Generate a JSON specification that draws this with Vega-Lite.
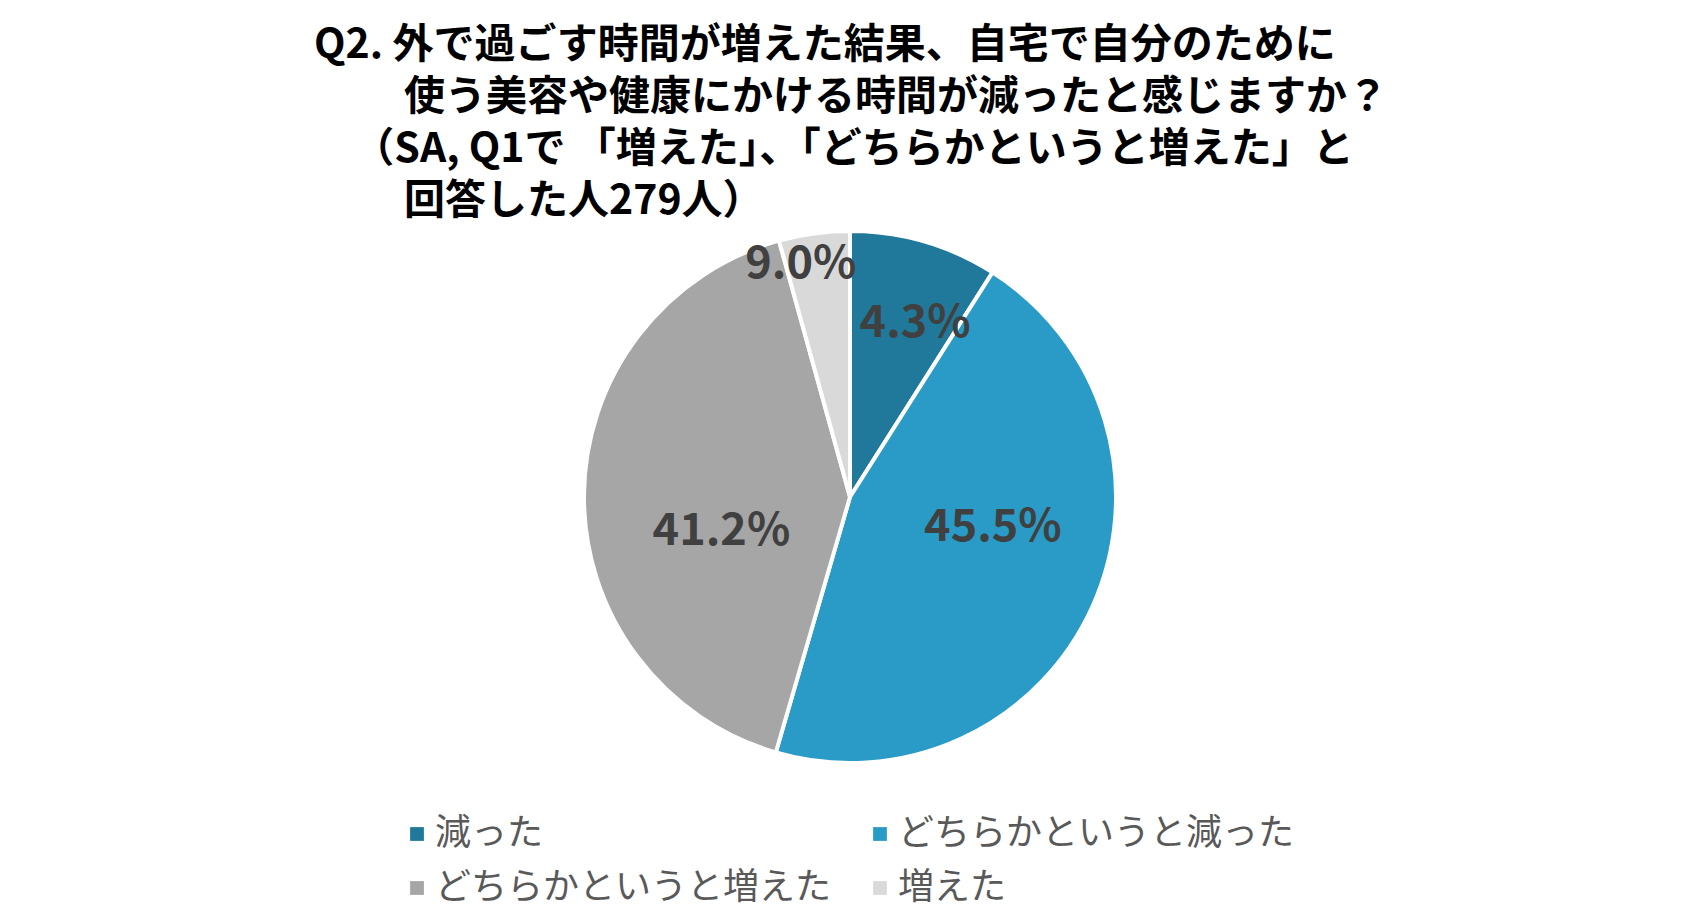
{
  "$schema": "https://vega.github.io/schema/vega-lite/v6.json",
  "width": 1700,
  "height": 532,
  "autosize": {"type": "none"},
  "padding": {"top": 231, "left": 0, "right": 0, "bottom": 158},
  "background": "white",
  "title": {
    "text": [
      "Q2. 外で過ごす時間が増えた結果、自宅で自分のために",
      "⠀⠀⠀使う美容や健康にかける時間が減ったと感じますか？",
      "⠀ （SA, Q1で 「増えた」、「どちらかというと増えた」と",
      "⠀⠀⠀回答した人279人）"
    ],
    "anchor": "start",
    "frame": "group",
    "dx": 314,
    "offset": 0,
    "font": "Noto Sans CJK JP",
    "fontSize": 41,
    "fontWeight": "bold",
    "color": "#000000",
    "lineHeight": 52
  },
  "data": {
    "values": [
      {"cat": "減った", "pct": 9.0, "label": "4.3%", "ord": 1},
      {"cat": "どちらかというと減った", "pct": 45.5, "label": "45.5%", "ord": 2},
      {"cat": "どちらかというと増えた", "pct": 41.2, "label": "41.2%", "ord": 3},
      {"cat": "増えた", "pct": 4.3, "label": "9.0%", "ord": 4}
    ]
  },
  "encoding": {
    "theta": {"field": "pct", "type": "quantitative", "stack": true},
    "order": {"field": "ord", "type": "quantitative"}
  },
  "layer": [
    {
      "mark": {"type": "arc", "outerRadius": 266, "stroke": "white", "strokeWidth": 4},
      "encoding": {
        "color": {
          "field": "cat",
          "type": "nominal",
          "scale": {
            "domain": ["減った", "どちらかというと減った", "どちらかというと増えた", "増えた"],
            "range": ["#20789a", "#2a9ac6", "#a6a6a6", "#d9d9d9"]
          },
          "legend": {
            "title": null,
            "orient": "none",
            "legendX": 399,
            "legendY": 585,
            "columns": 2,
            "direction": "horizontal",
            "symbolType": "square",
            "symbolSize": 190,
            "symbolStrokeWidth": 0,
            "labelFont": "Noto Sans CJK JP",
            "labelFontSize": 36,
            "labelColor": "#595959",
            "labelOffset": 0,
            "labelLimit": 800,
            "columnPadding": 30,
            "rowPadding": 18,
            "padding": 0
          }
        }
      }
    },
    {
      "mark": {"type": "text", "radius": 186, "thetaOffset": 0.075, "font": "Noto Sans CJK JP", "fontSize": 45, "fontWeight": "bold", "color": "#404040", "align": "center", "baseline": "middle"},
      "encoding": {
        "detail": {"field": "cat"},
        "text": {"condition": {"test": "datum.cat === '減った'", "field": "label"}, "value": ""}
      }
    },
    {
      "mark": {"type": "text", "radius": 146, "thetaOffset": -0.218, "font": "Noto Sans CJK JP", "fontSize": 45, "fontWeight": "bold", "color": "#404040", "align": "center", "baseline": "middle"},
      "encoding": {
        "detail": {"field": "cat"},
        "text": {"condition": {"test": "datum.cat === 'どちらかというと減った'", "field": "label"}, "value": ""}
      }
    },
    {
      "mark": {"type": "text", "radius": 133, "thetaOffset": -0.265, "font": "Noto Sans CJK JP", "fontSize": 45, "fontWeight": "bold", "color": "#404040", "align": "center", "baseline": "middle"},
      "encoding": {
        "detail": {"field": "cat"},
        "text": {"condition": {"test": "datum.cat === 'どちらかというと増えた'", "field": "label"}, "value": ""}
      }
    },
    {
      "mark": {"type": "text", "radius": 238, "thetaOffset": -0.073, "font": "Noto Sans CJK JP", "fontSize": 45, "fontWeight": "bold", "color": "#404040", "align": "center", "baseline": "middle"},
      "encoding": {
        "detail": {"field": "cat"},
        "text": {"condition": {"test": "datum.cat === '増えた'", "field": "label"}, "value": ""}
      }
    }
  ],
  "config": {"view": {"stroke": null}}
}
